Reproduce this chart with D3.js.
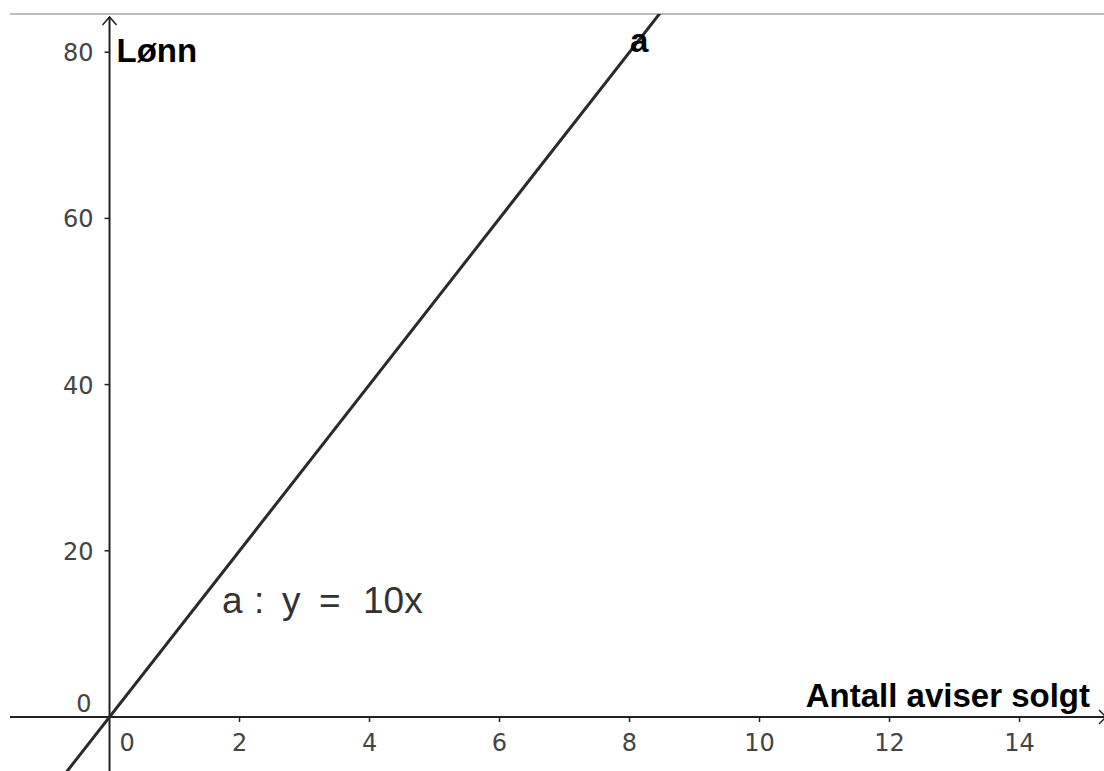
<!DOCTYPE html>
<html>
<head>
<meta charset="utf-8">
<script src="https://cdn.jsdelivr.net/npm/d3@7"></script>
<style>
  body { margin: 0; background: #fff; }
  svg { display: block; }
</style>
</head>
<body>
<div id="chart"></div>
<script>
// data
var xTicks = [2, 4, 6, 8, 10, 12, 14];
var yTicks = [20, 40, 60, 80];
var lineX = [-2, 10];          // x values of the line a
var slope = 10;                // a : y = 10x
var lineY = lineX.map(function (x) { return slope * x; });

var svgWidth = 1104;
var svgHeight = 771;
var topEdge = 14;

var svg = d3.select("#chart")
  .append("svg")
  .attr("width", svgWidth)
  .attr("height", svgHeight);

// scales: origin at (109.5, 717), 65px per x unit, 8.31px per y unit
var xScale = d3.scaleLinear()
  .domain([-1.685, 15.3])
  .range([0, svgWidth]);

var yScale = d3.scaleLinear()
  .domain([-6.5, 86.28])
  .range([svgHeight, 0]);

var x0 = xScale(0), y0 = yScale(0);

svg.append("defs").append("clipPath")
  .attr("id", "plot")
  .append("rect")
  .attr("x", 0).attr("y", topEdge)
  .attr("width", svgWidth).attr("height", svgHeight - topEdge);

// top border line
svg.append("line")
  .attr("x1", 10).attr("x2", svgWidth)
  .attr("y1", topEdge).attr("y2", topEdge)
  .attr("stroke", "#bdbdbd")
  .attr("stroke-width", 2);

// axes
var axisColor = "#222";
svg.append("line")
  .attr("x1", 10).attr("x2", svgWidth)
  .attr("y1", y0).attr("y2", y0)
  .attr("stroke", axisColor).attr("stroke-width", 2);

svg.append("line")
  .attr("x1", x0).attr("x2", x0)
  .attr("y1", svgHeight).attr("y2", topEdge + 3)
  .attr("stroke", axisColor).attr("stroke-width", 2);

// arrow on y axis
svg.append("path")
  .attr("d", `M${x0 - 7},${topEdge + 11} L${x0},${topEdge + 3} L${x0 + 7},${topEdge + 11}`)
  .attr("fill", "none").attr("stroke", axisColor).attr("stroke-width", 1.5);

// arrow on x axis (mostly cut at the edge)
svg.append("path")
  .attr("d", `M${svgWidth - 5},${y0 - 7} L${svgWidth + 2},${y0} L${svgWidth - 5},${y0 + 7}`)
  .attr("fill", "none").attr("stroke", axisColor).attr("stroke-width", 1.5);

// x ticks
var tickFont = "'DejaVu Sans', Verdana, sans-serif";
var tickSize = 24;
var tickColor = "#444";
svg.selectAll(".xtick")
  .data(xTicks)
  .enter()
  .append("line")
  .attr("x1", d => xScale(d)).attr("x2", d => xScale(d))
  .attr("y1", y0).attr("y2", y0 + 5)
  .attr("stroke", axisColor).attr("stroke-width", 1.5);

svg.selectAll(".xlabel")
  .data(xTicks)
  .enter()
  .append("text")
  .attr("x", d => xScale(d))
  .attr("y", y0 + 34)
  .attr("text-anchor", "middle")
  .attr("font-family", tickFont)
  .attr("font-size", tickSize)
  .attr("fill", tickColor)
  .text(d => d);

svg.append("text")
  .attr("x", x0 + 10).attr("y", y0 + 34)
  .attr("font-family", tickFont).attr("font-size", tickSize).attr("fill", tickColor)
  .text("0");

// y ticks
svg.selectAll(".ytick")
  .data(yTicks)
  .enter()
  .append("line")
  .attr("x1", x0 - 5).attr("x2", x0)
  .attr("y1", d => yScale(d)).attr("y2", d => yScale(d))
  .attr("stroke", axisColor).attr("stroke-width", 1.5);

svg.selectAll(".ylabel")
  .data(yTicks)
  .enter()
  .append("text")
  .attr("x", x0 - 16)
  .attr("y", d => yScale(d) + 9)
  .attr("text-anchor", "end")
  .attr("font-family", tickFont)
  .attr("font-size", tickSize)
  .attr("fill", tickColor)
  .text(d => d);

svg.append("text")
  .attr("x", x0 - 18).attr("y", y0 - 5)
  .attr("text-anchor", "end")
  .attr("font-family", tickFont).attr("font-size", tickSize).attr("fill", tickColor)
  .text("0");

// the line a
var line = d3.line()
  .x(d => xScale(d[0]))
  .y(d => yScale(d[1]));

svg.append("path")
  .datum(lineX.map((x, i) => [x, lineY[i]]))
  .attr("clip-path", "url(#plot)")
  .attr("d", line)
  .attr("fill", "none")
  .attr("stroke", "#2a2a2a")
  .attr("stroke-width", 3);

// axis titles
var labelFont = "'Liberation Sans', Arial, sans-serif";
svg.append("text")
  .attr("x", x0 + 7).attr("y", 62)
  .attr("font-family", labelFont).attr("font-size", 33)
  .attr("font-weight", "bold").attr("fill", "#000")
  .text("Lønn");

svg.append("text")
  .attr("x", 1090).attr("y", 707)
  .attr("text-anchor", "end")
  .attr("font-family", labelFont).attr("font-size", 33)
  .attr("font-weight", "bold").attr("fill", "#000")
  .text("Antall aviser solgt");

svg.append("text")
  .attr("x", 630).attr("y", 52)
  .attr("font-family", labelFont).attr("font-size", 33)
  .attr("font-weight", "bold").attr("fill", "#000")
  .text("a");

// equation
var eq = svg.append("text")
  .attr("y", 613)
  .attr("font-family", labelFont)
  .attr("font-size", 37)
  .attr("fill", "#333");
[["a", 222], [":", 254], ["y", 282], ["=", 319], ["10x", 363]].forEach(function (p) {
  eq.append("tspan").attr("x", p[1]).text(p[0]);
});
</script>
</body>
</html>
